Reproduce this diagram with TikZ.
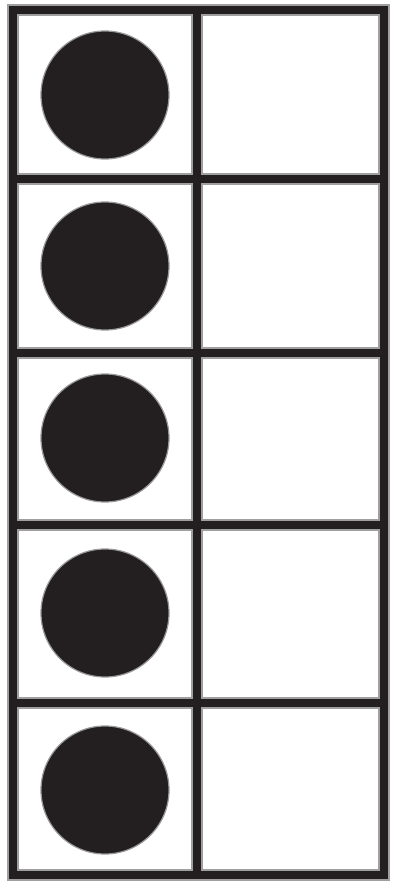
\documentclass[tikz,border=0pt]{standalone}
\begin{document}
\begin{tikzpicture}[x=1pt,y=-1pt,
  gridline/.style={line width=12pt,draw=gray!75,line cap=rect},
  gridcore/.style={line width=8pt,draw=inkdark,line cap=rect},
  dot/.style={circle,fill=inkdark,minimum size=128pt,inner sep=0pt,draw=gray!80,line width=1.2pt}]
\definecolor{inkdark}{HTML}{231F20}
\useasboundingbox (0,0) rectangle (392,883);
\fill[white] (0,0) rectangle (392,883);
% grid halo
\foreach \y in {10,179,353,525,703,875}{\draw[gridline] (13,\y) -- (384,\y);}
\foreach \x in {13,197,384}{\draw[gridline] (\x,10) -- (\x,875);}
% grid core
\foreach \y in {10,179,353,525,703,875}{\draw[gridcore] (13,\y) -- (384,\y);}
\foreach \x in {13,197,384}{\draw[gridcore] (\x,10) -- (\x,875);}
% dots
\node[dot] (d1) at (105,95) {};
\node[dot] (d2) at (105,266) {};
\node[dot] (d3) at (105,438) {};
\node[dot] (d4) at (105,613) {};
\node[dot] (d5) at (105,790) {};
\end{tikzpicture}
\end{document}
